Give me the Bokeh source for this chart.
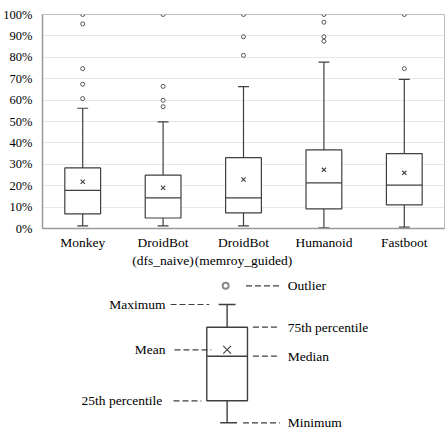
from bokeh.plotting import figure
from bokeh.layouts import column
from bokeh.models import Range1d, FixedTicker
from bokeh.core.properties import value
from bokeh.embed import file_html
from bokeh.resources import INLINE

# ---------------- data ----------------
categories = ["Monkey", "DroidBot\n(dfs_naive)", "DroidBot\n(memroy_guided)", "Humanoid", "Fastboot"]
minimum = [1.2, 1.2, 1.2, 0.3, 0.6]
q1 = [6.8, 4.9, 7.3, 9.2, 11.0]
median = [17.8, 14.3, 14.3, 21.3, 20.3]
mean = [21.8, 19.0, 22.9, 27.4, 26.0]
q3 = [28.3, 24.9, 33.1, 36.7, 35.0]
maximum = [56.2, 49.8, 66.3, 77.7, 69.7]
outliers = [
    [60.7, 67.4, 74.7, 95.6, 100.0],
    [56.9, 59.9, 66.4, 100.0],
    [80.9, 89.6, 100.0],
    [87.5, 89.6, 96.4, 100.0],
    [74.7, 100.0],
]
y_ticks = [0, 10, 20, 30, 40, 50, 60, 70, 80, 90, 100]

# schematic legend (illustrative statistic values)
ex_min, ex_q1, ex_median, ex_mean, ex_q3, ex_max, ex_outlier = 0, 22, 66.6, 73, 95.6, 118.3, 137
right_labels = ["Outlier", "75th  percentile", "Median", "Minimum"]
left_labels = ["Maximum", "Mean", "25th  percentile"]

FONT = "'Liberation Serif', 'DejaVu Serif', serif"
DARK = "#3f3f3f"

# ---------------- main chart ----------------
xs = [i + 0.5 for i in range(len(categories))]
p = figure(width=446, height=270, x_range=Range1d(0, len(categories)), y_range=Range1d(0, 100),
           output_backend="svg", toolbar_location=None,
           min_border_left=39, min_border_right=2, min_border_top=14, min_border_bottom=42)
p.background_fill_color = "white"
p.border_fill_color = "white"
p.outline_line_color = "#bdbdbd"
p.outline_line_width = 1

p.xgrid.grid_line_color = None
p.ygrid.grid_line_color = "#e6e6e6"
p.ygrid.ticker = FixedTicker(ticks=y_ticks)

p.yaxis.ticker = FixedTicker(ticks=y_ticks)
p.yaxis.major_label_overrides = {t: f"{t}%" for t in y_ticks}
p.yaxis.major_tick_line_color = None
p.yaxis.minor_tick_line_color = None
p.yaxis.axis_line_color = "#9a9a9a"
p.yaxis.axis_line_width = 1.5
p.yaxis.major_label_text_font = FONT
p.yaxis.major_label_text_font_size = "12.5px"
p.yaxis.major_label_text_color = "black"
p.yaxis.major_label_standoff = 4

p.xaxis.ticker = FixedTicker(ticks=xs)
p.xaxis.major_label_overrides = {x: c for x, c in zip(xs, categories)}
p.xaxis.major_tick_line_color = None
p.xaxis.minor_tick_line_color = None
p.xaxis.axis_line_color = "#9a9a9a"
p.xaxis.axis_line_width = 1.5
p.xaxis.major_label_text_font = FONT
p.xaxis.major_label_text_font_size = "13.5px"
p.xaxis.major_label_text_color = "black"
p.xaxis.major_label_standoff = 0

box_w = 0.445
cap_h = 0.068
# whiskers
p.segment(x0=xs, y0=q3, x1=xs, y1=maximum, line_color=DARK, line_width=1.2)
p.segment(x0=xs, y0=minimum, x1=xs, y1=q1, line_color=DARK, line_width=1.2)
p.segment(x0=[x - cap_h for x in xs], y0=maximum, x1=[x + cap_h for x in xs], y1=maximum,
          line_color=DARK, line_width=1.2)
p.segment(x0=[x - cap_h for x in xs], y0=minimum, x1=[x + cap_h for x in xs], y1=minimum,
          line_color=DARK, line_width=1.2)
# boxes
p.vbar(x=xs, width=box_w, bottom=q1, top=q3, fill_color="white", line_color=DARK, line_width=1.2)
p.segment(x0=[x - box_w / 2 for x in xs], y0=median, x1=[x + box_w / 2 for x in xs], y1=median,
          line_color=DARK, line_width=1.2)
p.scatter(x=xs, y=mean, marker="x", size=6, line_color=DARK, line_width=1.1)
ox, oy = [], []
for x, vals in zip(xs, outliers):
    for v in vals:
        ox.append(x)
        oy.append(v)
p.scatter(x=ox, y=oy, marker="circle", size=4, fill_color="white", line_color="#555555", line_width=1)

# ---------------- schematic legend ----------------
q = figure(width=446, height=159, x_range=Range1d(-186, 219), y_range=Range1d(-6.7, 152.3),
           output_backend="svg", toolbar_location=None,
           x_axis_location=None, y_axis_location=None,
           min_border_left=39, min_border_right=2, min_border_top=0, min_border_bottom=0)
q.grid.visible = False
q.outline_line_color = None
q.background_fill_color = "white"
q.border_fill_color = "white"

bw = 20.5
cw = 8.5
q.segment(x0=[0, 0], y0=[ex_q3, ex_min], x1=[0, 0], y1=[ex_max, ex_q1], line_color=DARK, line_width=1.4)
q.segment(x0=[-cw, -cw + 1.5], y0=[ex_max, ex_min], x1=[cw, cw + 1.5], y1=[ex_max, ex_min],
          line_color=DARK, line_width=1.4)
q.quad(left=[-bw], right=[bw], bottom=[ex_q1], top=[ex_q3], fill_color="white", line_color=DARK, line_width=1.4)
q.segment(x0=[-bw], y0=[ex_median], x1=[bw], y1=[ex_median], line_color=DARK, line_width=1.4)
q.scatter(x=[0], y=[ex_mean], marker="x", size=11, line_color=DARK, line_width=1.1)
q.scatter(x=[-1.5], y=[ex_outlier], marker="circle", size=6, fill_color="white", line_color="#8a8a8a", line_width=2)

# dashed leader lines
r_y = [ex_outlier, ex_q3, ex_median, ex_min]
r_x0 = [19, 26, 26, 16]
q.segment(x0=r_x0, y0=r_y, x1=[53] * 4, y1=r_y, line_color=DARK, line_width=1.2, line_dash="6 3")
l_y = [ex_max, ex_mean, ex_q1]
l_x0 = [-57, -53, -54]
l_x1 = [-18, -16, -26]
q.segment(x0=l_x0, y0=l_y, x1=l_x1, y1=l_y, line_color=DARK, line_width=1.2, line_dash="6 3")

q.text(x=[61] * 4, y=r_y, text=right_labels, text_font=value(FONT), text_font_size="13.5px",
       text_baseline="middle", text_align="left", text_color="black")
q.text(x=[-62] * 3, y=l_y, text=left_labels, text_font=value(FONT), text_font_size="13.5px",
       text_baseline="middle", text_align="right", text_color="black")

layout = column(p, q, spacing=0)
open("out.html", "w").write(file_html(layout, INLINE))
